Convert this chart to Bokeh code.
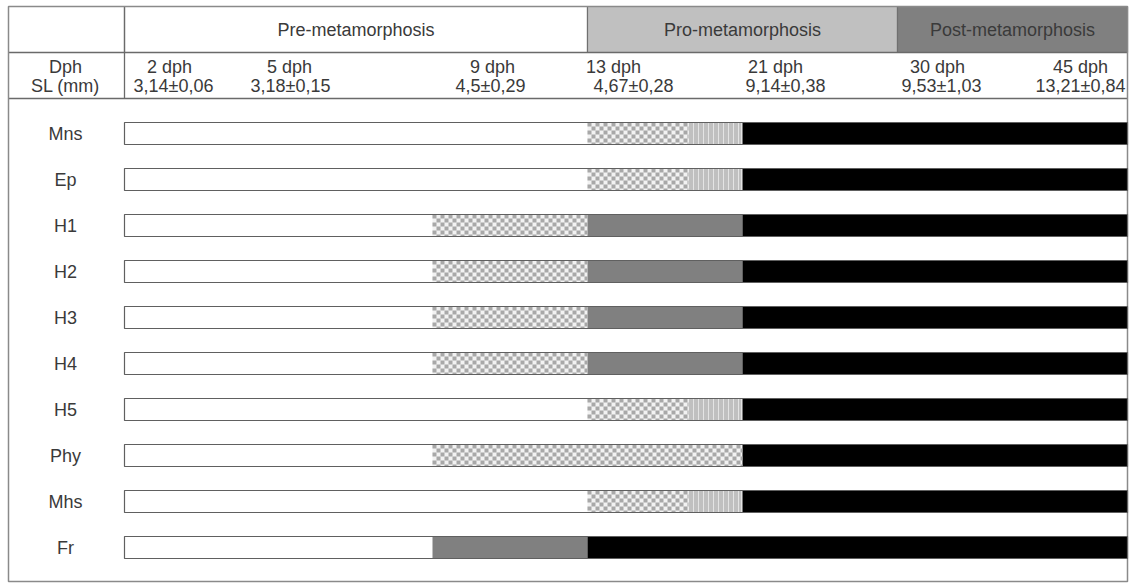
from bokeh.plotting import figure
from bokeh.models import ColumnDataSource, Range1d
from bokeh.core.properties import value
from bokeh.embed import file_html
from bokeh.resources import INLINE

W, H = 1134, 583

# ---- data -----------------------------------------------------------------
organs = ["Mns", "Ep", "H1", "H2", "H3", "H4", "H5", "Phy", "Mhs", "Fr"]

# points on the time axis where each organ changes state
edges = {
    "Mns": [124, 587, 688, 742, 1127],
    "Ep":  [124, 587, 688, 742, 1127],
    "H1":  [124, 432, 587, 742, 1127],
    "H2":  [124, 432, 587, 742, 1127],
    "H3":  [124, 432, 587, 742, 1127],
    "H4":  [124, 432, 587, 742, 1127],
    "H5":  [124, 587, 688, 742, 1127],
    "Phy": [124, 432, 742, 1127],
    "Mhs": [124, 587, 688, 742, 1127],
    "Fr":  [124, 432, 587, 1127],
}
# state held between consecutive change points
states = {
    "Mns": ["absent", "onset", "transition", "complete"],
    "Ep":  ["absent", "onset", "transition", "complete"],
    "H1":  ["absent", "onset", "partial", "complete"],
    "H2":  ["absent", "onset", "partial", "complete"],
    "H3":  ["absent", "onset", "partial", "complete"],
    "H4":  ["absent", "onset", "partial", "complete"],
    "H5":  ["absent", "onset", "transition", "complete"],
    "Phy": ["absent", "onset", "complete"],
    "Mhs": ["absent", "onset", "transition", "complete"],
    "Fr":  ["absent", "partial", "complete"],
}

stages = ["Pre-metamorphosis", "Pro-metamorphosis", "Post-metamorphosis"]
stage_edges = [124, 587, 897, 1127]

dph_labels = ["2 dph", "5 dph", "9 dph", "13 dph", "21 dph", "30 dph", "45 dph"]
sl_labels = ["3,14±0,06", "3,18±0,15", "4,5±0,29", "4,67±0,28",
             "9,14±0,38", "9,53±1,03", "13,21±0,84"]

# ---- styling ----------------------------------------------------------------
FONT = value("Liberation Sans")
TXT = "#3a3a3a"
LINE = "#8a8a8a"
FS = "18px"

state_fill = {"absent": "white", "onset": "#f2f2f2", "transition": "#e4e4e4",
              "partial": "#808080", "complete": "#000000"}
CHECK = 4          # checker cell size of the "onset" texture
CHECK_COLOR = "#a8a8a8"
STRIPE_COLOR = "#9c9c9c"
STRIPE_STEPS = [2, 3]   # alternating gaps between stripe lines

p = figure(width=W, height=H, x_range=Range1d(0, W), y_range=Range1d(H, 0),
           x_axis_type=None, y_axis_type=None, toolbar_location=None,
           output_backend="svg", min_border=0, outline_line_color=None)
p.grid.visible = False

# table layout
left, right, top, bottom = 8, 1127, 6, 581
row1_bottom, row2_bottom = 52, 98
label_x = 65
row0_y, row_step, bar_h = 133, 46, 22

# header row 1: stage boxes
p.quad(left=stage_edges[:-1], right=stage_edges[1:],
       top=[top] * 3, bottom=[row1_bottom] * 3,
       fill_color=["white", "#c0c0c0", "#808080"],
       line_color="#707070", line_width=1.2)
txt = dict(text_align="center", text_baseline="middle", text_font=FONT,
           text_font_size=FS, text_color=TXT)
p.text(x=[(a + b) / 2 for a, b in zip(stage_edges[:-1], stage_edges[1:])],
       y=[29] * 3, text=stages, **txt)

# header row 2: sampling ages and standard lengths
dph_x = [169, 289, 492, 613, 775, 937, 1080]
sl_x = [173, 290, 490, 633, 785, 941, 1080]
p.text(x=[label_x], y=[66], text=["Dph"], **txt)
p.text(x=[label_x], y=[85], text=["SL (mm)"], **txt)
p.text(x=dph_x, y=[66] * 7, text=dph_labels, **txt)
p.text(x=sl_x, y=[85] * 7, text=sl_labels, **txt)

# table rules and frame
p.segment(x0=[left, left, stage_edges[0]], y0=[row1_bottom, row2_bottom, top],
          x1=[right, right, stage_edges[0]], y1=[row1_bottom, row2_bottom, row2_bottom],
          line_color="#6a6a6a", line_width=1.3)
p.quad(left=[left], right=[right], top=[top], bottom=[bottom],
       fill_color=None, line_color=LINE, line_width=1.5)

# development bars: solid state fills plus textures
seg = dict(left=[], right=[], top=[], bottom=[], fill=[])
checks = dict(left=[], right=[], top=[], bottom=[])
stripes = dict(left=[], right=[], top=[], bottom=[])
rows_y = []
for i, organ in enumerate(organs):
    yc = row0_y + i * row_step
    rows_y.append(yc)
    y_top, y_bot = yc - bar_h / 2, yc + bar_h / 2
    e = edges[organ]
    for a, b, s in zip(e[:-1], e[1:], states[organ]):
        seg["left"].append(a)
        seg["right"].append(b)
        seg["top"].append(y_top)
        seg["bottom"].append(y_bot)
        seg["fill"].append(state_fill[s])
        if s == "onset":
            # checkerboard texture
            ny = int(bar_h // CHECK) + 1
            nx = int((b - a) // CHECK) + 1
            for ix in range(nx):
                for iy in range(ny):
                    if (ix + iy) % 2:
                        continue
                    x0 = a + ix * CHECK
                    y0 = y_top + iy * CHECK
                    if x0 >= b or y0 >= y_bot:
                        continue
                    checks["left"].append(x0)
                    checks["right"].append(min(x0 + CHECK, b))
                    checks["top"].append(y0)
                    checks["bottom"].append(min(y0 + CHECK, y_bot))
        elif s == "transition":
            # fine vertical stripes
            x0, k = a + 1, 0
            while x0 < b - 1:
                stripes["left"].append(x0)
                stripes["right"].append(x0 + 1)
                stripes["top"].append(y_top)
                stripes["bottom"].append(y_bot)
                x0 += STRIPE_STEPS[k % 2]
                k += 1

p.quad(left="left", right="right", top="top", bottom="bottom",
       source=ColumnDataSource(seg), fill_color="fill", line_color=None)
p.quad(left="left", right="right", top="top", bottom="bottom",
       source=ColumnDataSource(checks), fill_color=CHECK_COLOR, line_color=None)
p.quad(left="left", right="right", top="top", bottom="bottom",
       source=ColumnDataSource(stripes), fill_color=STRIPE_COLOR, line_color=None)

# bar outlines and organ labels
p.quad(left=[edges[o][0] for o in organs], right=[edges[o][-1] for o in organs],
       top=[y - bar_h / 2 for y in rows_y], bottom=[y + bar_h / 2 for y in rows_y],
       fill_color=None, line_color="#606060", line_width=1.2)
p.text(x=[label_x] * len(organs), y=rows_y, text=organs, **txt)

open("out.html", "w").write(file_html(p, INLINE))
